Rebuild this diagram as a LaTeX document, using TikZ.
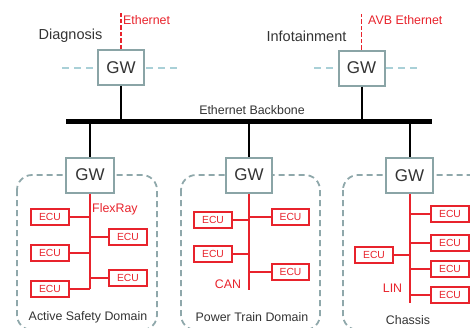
\documentclass[tikz,border=0pt]{standalone}
\usepackage{fontspec}
\setmainfont{Liberation Sans}
\definecolor{busred}{HTML}{E8232C}
\definecolor{gwc}{HTML}{8AA4A6}
\definecolor{domc}{HTML}{8FA8AB}
\definecolor{tealdash}{HTML}{A9D0D7}
\definecolor{txt}{HTML}{333333}
\tikzset{
  gw/.style={draw=gwc, line width=2pt, fill=white, minimum width=46, minimum height=35, inner sep=0pt, text=txt, font=\fontsize{17}{19}\selectfont},
  ecu/.style={draw=busred, line width=1.8pt, fill=white, minimum width=37.5, minimum height=16, inner sep=0pt, text=busred, font=\fontsize{10.3}{12}\selectfont},
  domainbox/.style={draw=domc, line width=1.8pt, dash pattern=on 6pt off 4pt, rounded corners=15pt},
  tealline/.style={draw=tealdash, line width=1.5pt, dash pattern=on 7pt off 5pt},
  reddash/.style={draw=busred, line width=1.5pt, dash pattern=on 4.5pt off 2pt},
  busline/.style={draw=busred, line width=2pt},
  blk/.style={draw=black, line width=2pt},
  bigtxt/.style={text=txt, inner sep=0pt, font=\fontsize{14.5}{16}\selectfont},
  midtxt/.style={text=txt, inner sep=0pt, font=\fontsize{12.4}{14}\selectfont},
  redtxt/.style={text=busred, inner sep=0pt, font=\fontsize{12.4}{14}\selectfont},
}
\begin{document}
\begin{tikzpicture}[x=1pt,y=-1pt]
\useasboundingbox (0,0) rectangle (470,327);
\clip (0,0) rectangle (470,327);
% domain outlines
\draw[domainbox] (17,175) rectangle (157,330);
\draw[domainbox] (181,175) rectangle (320,330);
\draw[domainbox] (343,175) rectangle (495,330);
% teal dashed lines
\coordinate (t1l) at (62,68);
\coordinate (t1r) at (179,68);
\coordinate (t2l) at (314,68);
\coordinate (t2r) at (421,68);
\draw[tealline] (t1l) -- (t1r);
\draw[tealline] (t2l) -- (t2r);
% top gateways
\node[gw] (gw1) at (121,67.5) {GW};
\node[gw] (gw2) at (361.5,68) {GW};
\node[bigtxt] (diag) at (70.5,36) {Diagnosis};
\node[bigtxt] (info) at (306.5,36) {Infotainment};
\coordinate (e1) at (121,13);
\coordinate (e2) at (361.5,14);
\draw[reddash] (gw1.north) -- (e1);
\draw[reddash] (gw2.north) -- (e2);
\node[redtxt, anchor=west] (eth1) at (123,20) {Ethernet};
\node[redtxt, anchor=west] (eth2) at (368,20) {AVB Ethernet};
% backbone
\coordinate (bbL) at (66,121.5);
\coordinate (bbR) at (432,121.5);
\draw[black, line width=4.5pt] (bbL) -- (bbR);
\node[midtxt] (bbt) at (252,110) {Ethernet Backbone};
\draw[blk] (gw1.south) -- (gw1.south |- bbL);
\draw[blk] (gw2.south) -- (gw2.south |- bbL);
% bottom gateways
\node[gw, minimum width=48] (gwA) at (90,175) {GW};
\node[gw] (gwB) at (249,175) {GW};
\node[gw, minimum width=47] (gwC) at (409.5,175.5) {GW};
\draw[blk] (gwA.north) -- (gwA.north |- bbL);
\draw[blk] (gwB.north) -- (gwB.north |- bbL);
\draw[blk] (gwC.north) -- (gwC.north |- bbL);
% domain 1: FlexRay
\coordinate (endA) at (90,289);
\draw[busline] (gwA.south) -- (endA);
\node[ecu] (a1) at (50,217) {ECU};
\node[ecu] (a2) at (50,253) {ECU};
\node[ecu] (a3) at (50,289) {ECU};
\node[ecu] (a4) at (128,237) {ECU};
\node[ecu] (a5) at (128,278) {ECU};
\draw[busline] (a1.east) -- (a1.east -| endA);
\draw[busline] (a2.east) -- (a2.east -| endA);
\draw[busline] (a3.east) -- (a3.east -| endA);
\draw[busline] (a4.west) -- (a4.west -| endA);
\draw[busline] (a5.west) -- (a5.west -| endA);
\node[redtxt, anchor=west] (flex) at (92,209) {FlexRay};
\node[midtxt] (dA) at (88,317) {Active Safety Domain};
% domain 2: CAN
\coordinate (endB) at (249,290);
\draw[busline] (gwB.south) -- (endB);
\node[ecu] (b1) at (213,220) {ECU};
\node[ecu] (b2) at (213,254) {ECU};
\node[ecu] (b3) at (290.5,217) {ECU};
\node[ecu] (b4) at (290.5,272) {ECU};
\draw[busline] (b1.east) -- (b1.east -| endB);
\draw[busline] (b2.east) -- (b2.east -| endB);
\draw[busline] (b3.west) -- (b3.west -| endB);
\draw[busline] (b4.west) -- (b4.west -| endB);
\node[redtxt] (can) at (228,284) {CAN};
\node[midtxt] (dB) at (252,317) {Power Train Domain};
% domain 3: LIN
\coordinate (endC) at (409.5,303);
\draw[busline] (gwC.south) -- (endC);
\node[ecu] (c1) at (374,255) {ECU};
\node[ecu] (c2) at (450,214) {ECU};
\node[ecu] (c3) at (450,243) {ECU};
\node[ecu] (c4) at (450,269) {ECU};
\node[ecu] (c5) at (450,295) {ECU};
\draw[busline] (c1.east) -- (c1.east -| endC);
\draw[busline] (c2.west) -- (c2.west -| endC);
\draw[busline] (c3.west) -- (c3.west -| endC);
\draw[busline] (c4.west) -- (c4.west -| endC);
\draw[busline] (c5.west) -- (c5.west -| endC);
\node[redtxt] (lin) at (392.5,288) {LIN};
\node[midtxt] (dC) at (408,320) {Chassis};
\end{tikzpicture}
\end{document}
